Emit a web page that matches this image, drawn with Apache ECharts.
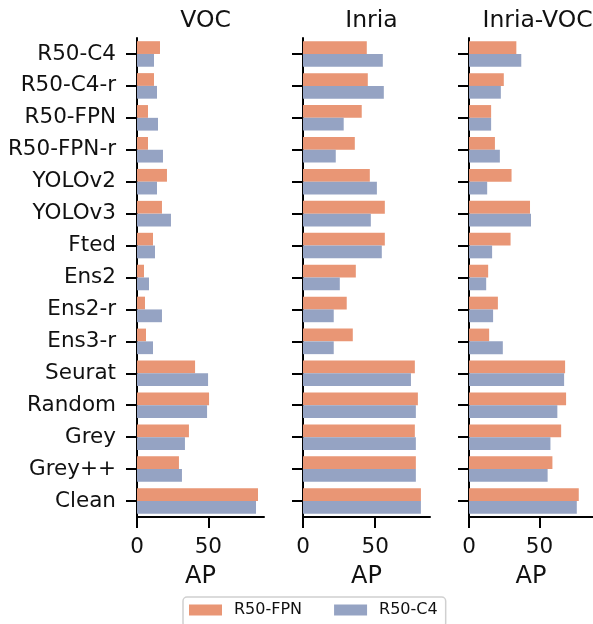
<!DOCTYPE html>
<html>
<head>
<meta charset="utf-8">
<script src="https://cdn.jsdelivr.net/npm/echarts@6/dist/echarts.min.js"></script>
<style>html,body{margin:0;padding:0;background:#fff;}#c{width:593px;height:624px;}</style>
</head>
<body>
<div id="c"></div>
<script>
const categories = ['R50-C4','R50-C4-r','R50-FPN','R50-FPN-r','YOLOv2','YOLOv3','Fted','Ens2','Ens2-r','Ens3-r','Seurat','Random','Grey','Grey++','Clean'];
const panelTitles = ['VOC','Inria','Inria-VOC'];
const seriesNames = ['R50-FPN','R50-C4'];
const xTicks = [0, 50];

const vocFPN = [16.1, 11.9, 7.7, 7.7, 21.0, 17.5, 11.2, 4.9, 5.6, 6.3, 40.7, 50.5, 36.4, 29.4, 84.8];
const vocC4  = [11.9, 14.0, 14.7, 18.2, 14.0, 23.8, 12.6, 8.4, 17.5, 11.2, 49.8, 49.1, 33.6, 31.5, 83.4];
const inriaFPN = [44.2, 44.9, 40.7, 35.9, 46.3, 56.7, 56.7, 36.6, 30.3, 34.5, 77.5, 79.6, 77.5, 78.2, 81.7];
const inriaC4  = [55.3, 56.0, 28.2, 22.7, 51.2, 47.0, 54.6, 25.5, 21.3, 21.3, 74.8, 78.2, 78.2, 78.2, 81.7];
const ivFPN = [33.6, 24.7, 15.7, 18.4, 30.2, 43.3, 29.5, 13.6, 20.5, 14.3, 68.2, 68.9, 65.4, 59.2, 77.9];
const ivC4  = [37.1, 22.6, 15.7, 21.9, 12.9, 44.0, 16.4, 12.2, 17.1, 24.0, 67.5, 62.7, 57.8, 55.8, 76.5];

const panelData = [[vocFPN, vocC4], [inriaFPN, inriaC4], [ivFPN, ivC4]];
const panelMax = [89, 88, 88];
const colors = ['#e99675', '#95a3c3'];
const font = 'DejaVu Sans';
const ink = '#111';

const lefts = [137, 303, 469];
const gridW = 127, gridTop = 38, gridH = 479;

const grid = [], xAxis = [], yAxis = [], series = [], title = [];
lefts.forEach((l, i) => {
  grid.push({left: l, top: gridTop, width: gridW, height: gridH, containLabel: false});
  title.push({text: panelTitles[i], left: l + gridW / 2, top: 4, textAlign: 'center',
    textStyle: {fontFamily: font, fontSize: 23.5, fontWeight: 'normal', color: ink}});
  xAxis.push({type: 'value', gridIndex: i, min: 0, max: panelMax[i], interval: 50,
    name: 'AP', nameLocation: 'middle', nameGap: 48,
    nameTextStyle: {fontFamily: font, fontSize: 24, color: ink},
    splitLine: {show: false},
    axisLine: {show: true, onZero: false, lineStyle: {color: '#000', width: 2}},
    axisTick: {show: true, length: 11, lineStyle: {color: '#000', width: 2}, customValues: xTicks},
    axisLabel: {fontFamily: font, fontSize: 21.5, color: ink, margin: 19, customValues: xTicks}
  });
  yAxis.push({type: 'category', gridIndex: i, data: categories, inverse: true,
    axisLine: {show: true, lineStyle: {color: '#000', width: 2}},
    axisTick: {show: true, alignWithLabel: true, length: 11, lineStyle: {color: '#000', width: 2}},
    axisLabel: {show: i === 0, fontFamily: font, fontSize: 21.5, color: ink, margin: 21},
    splitLine: {show: false}
  });
  seriesNames.forEach((n, s) => {
    series.push({type: 'bar', name: n, xAxisIndex: i, yAxisIndex: i, data: panelData[i][s],
      itemStyle: {color: colors[s]}, barCategoryGap: '20%', barGap: '0%', silent: true});
  });
});

const chart = echarts.init(document.getElementById('c'), null, {renderer: 'canvas'});
chart.setOption({
  animation: false,
  title: title,
  grid: grid, xAxis: xAxis, yAxis: yAxis, series: series,
  legend: {data: seriesNames, left: 183, top: 597, orient: 'horizontal',
    itemWidth: 33, itemHeight: 11, itemGap: 32, icon: 'rect',
    padding: [5, 8, 9, 6],
    borderColor: '#d0d0d0', borderWidth: 1.5, borderRadius: 4,
    textStyle: {fontFamily: font, fontSize: 16, color: ink, padding: [0, 0, 0, 7]}
  }
});
</script>
</body>
</html>
